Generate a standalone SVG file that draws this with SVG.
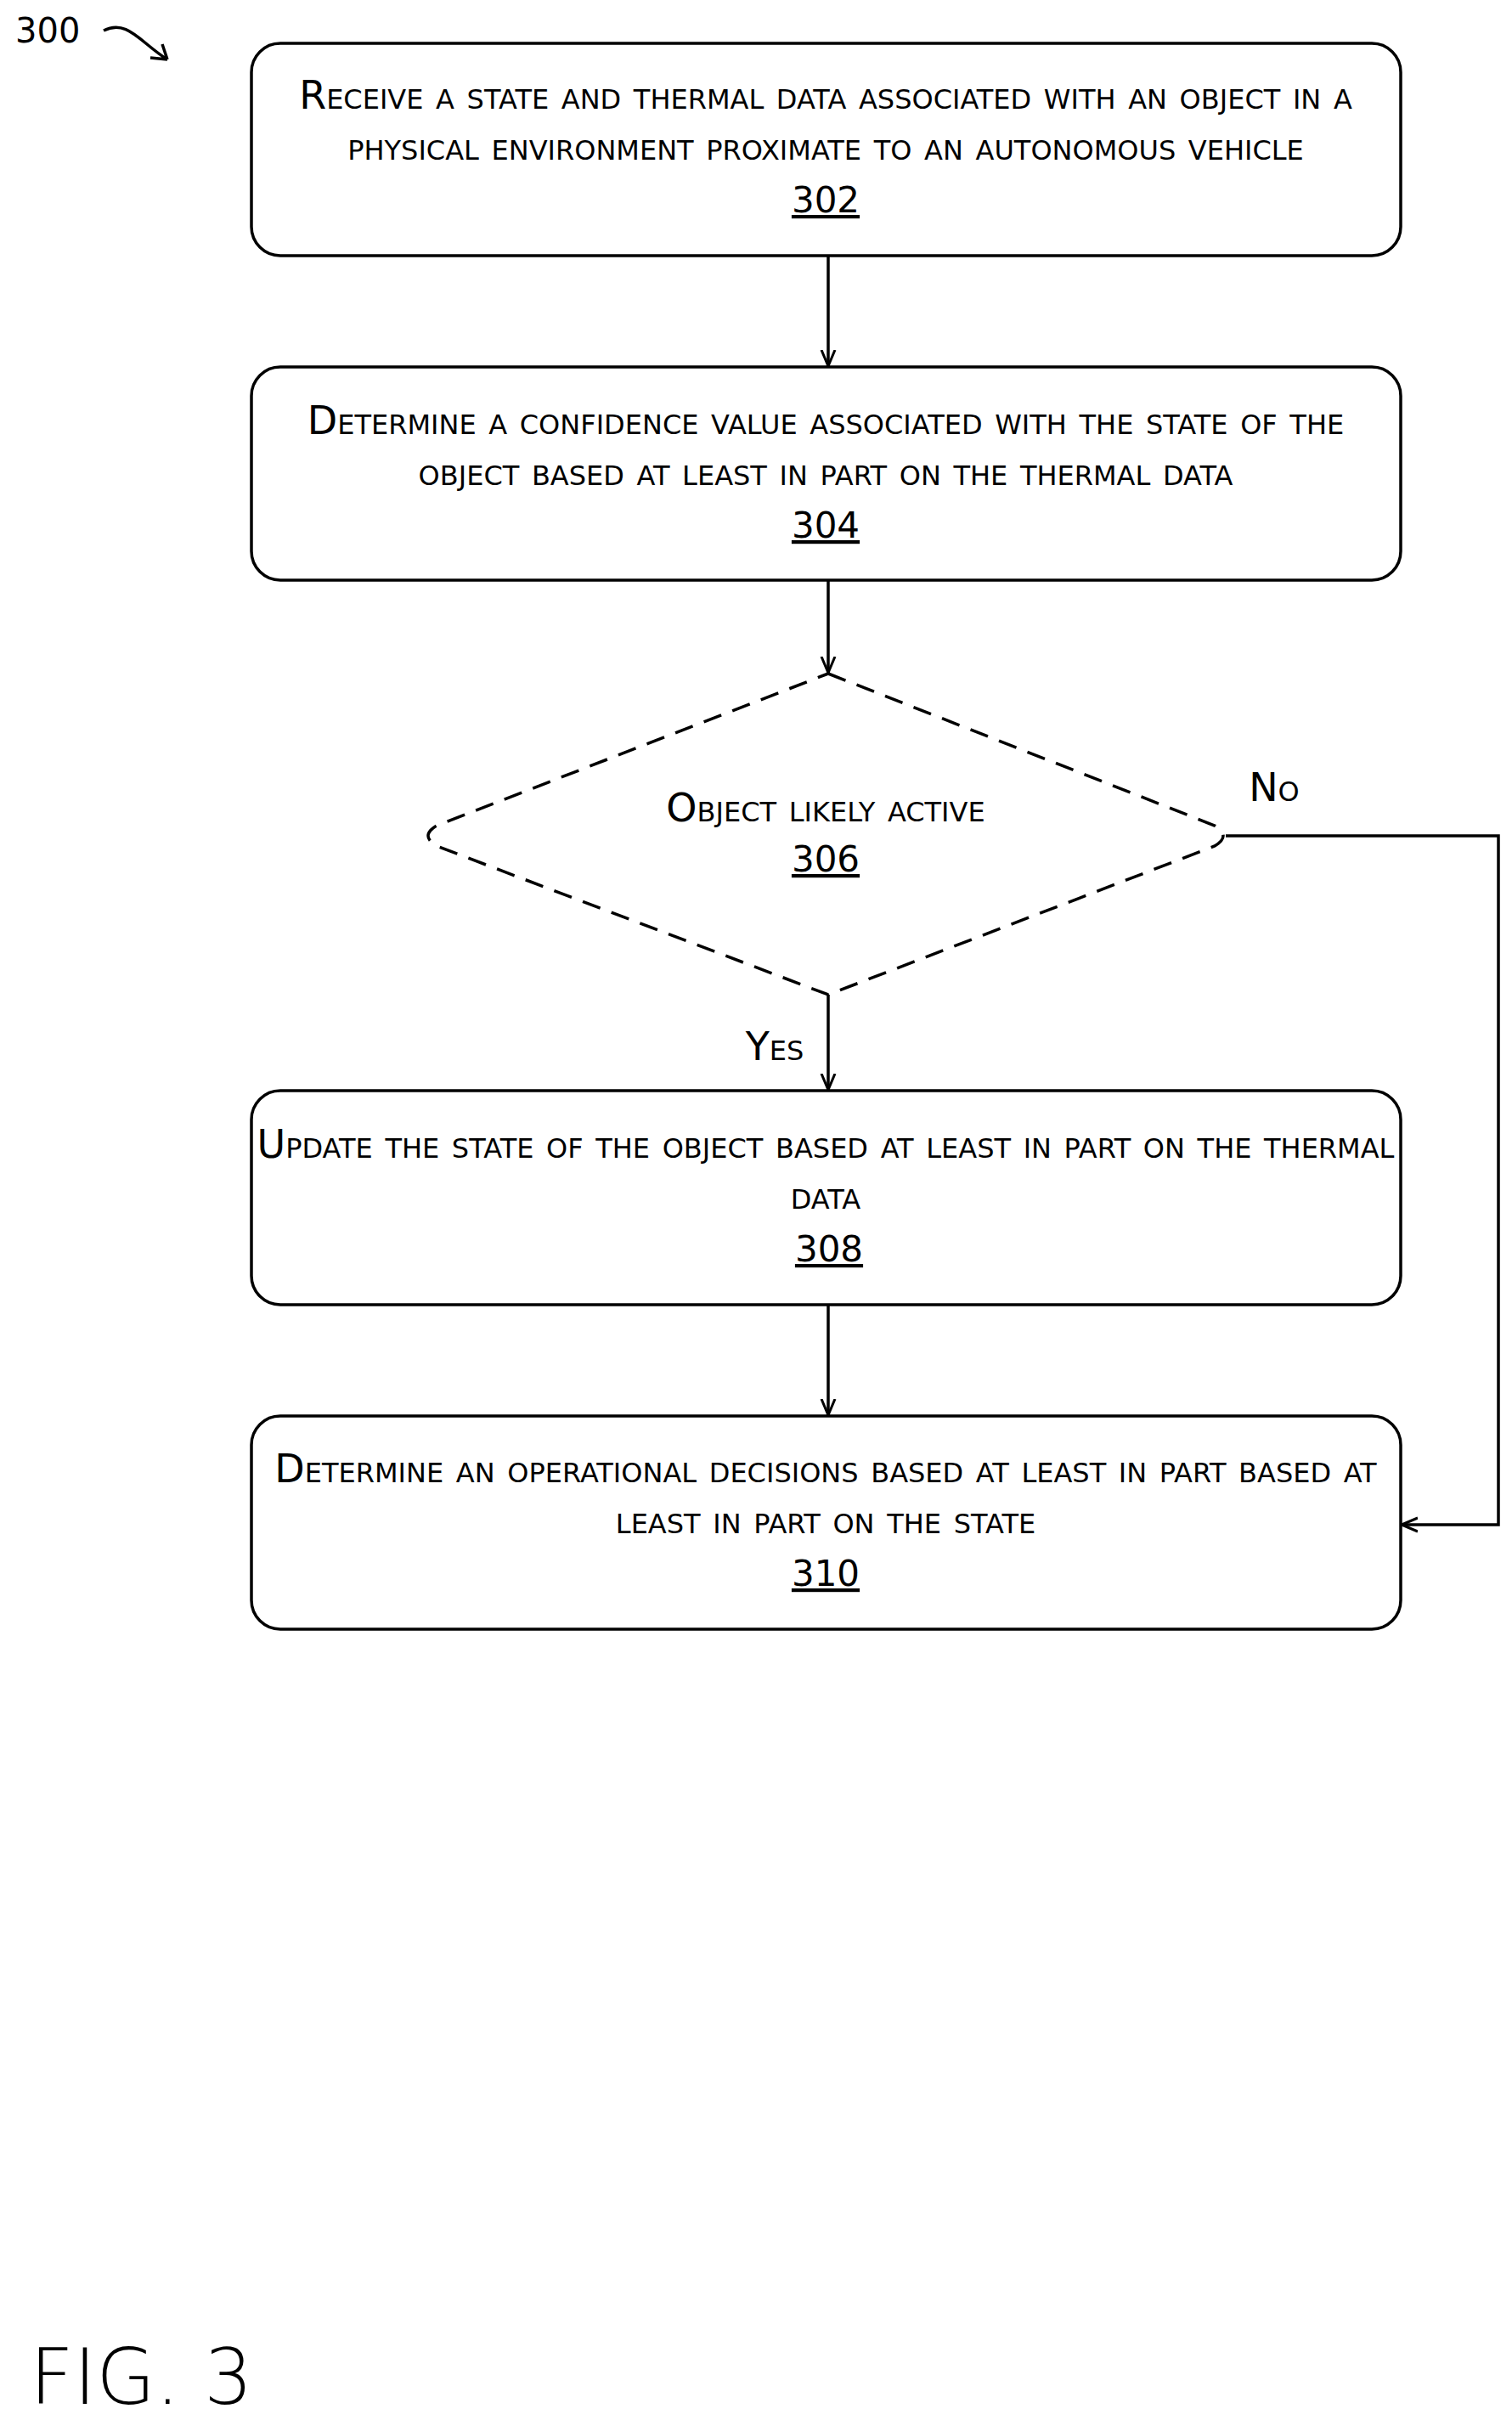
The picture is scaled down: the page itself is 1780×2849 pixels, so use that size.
<svg xmlns="http://www.w3.org/2000/svg" width="1780" height="2849" viewBox="0 0 1780 2849">
<style>
.b{fill:#fff;stroke:#000;stroke-width:3.5}
.t{font-family:"DejaVu Sans",sans-serif;font-size:46px;font-variant:small-caps;text-anchor:middle;fill:#000}
.n{font-family:"DejaVu Sans",sans-serif;font-size:42px;text-anchor:middle;text-decoration:underline;fill:#000}
.c{fill:none;stroke:#000;stroke-width:3.5}
</style>
<defs><marker id="a" viewBox="0 0 20 20" refX="19" refY="10" markerWidth="20" markerHeight="20" markerUnits="userSpaceOnUse" orient="auto"><path d="M0,2 L19,10 L0,18" fill="none" stroke="#000" stroke-width="3"/></marker></defs>
<g id="label300"><text x="18" y="50" font-family="DejaVu Sans,sans-serif" font-size="40">300</text><path class="c" d="M122,36 C150,22 165,50 197,70 M197,70 l-20,-2 M197,70 l-6,-18"/></g>
<g id="n302"><rect class="b" x="296" y="51" width="1353" height="250" rx="34"/><text class="t" x="972" y="128">Receive a state and thermal data associated with an object in a</text><text class="t" x="972" y="188">physical environment proximate to an autonomous vehicle</text><text class="n" x="972" y="250">302</text></g>
<g id="n304"><rect class="b" x="296" y="432" width="1353" height="251" rx="34"/><text class="t" x="972" y="511">Determine a confidence value associated with the state of the</text><text class="t" x="972" y="571">object based at least in part on the thermal data</text><text class="n" x="972" y="633">304</text></g>
<g id="n306"><path class="b" fill="#fff" stroke-dasharray="22,14" d="M975,793 L1430,972 Q1450,984 1430,996 L975,1171 L514,996 Q494,984 514,972 Z"/><text class="t" x="972" y="967">Object likely active</text><text class="n" x="972" y="1026">306</text></g>
<g id="n308"><rect class="b" x="296" y="1284" width="1353" height="252" rx="34"/><text class="t" x="972" y="1363">Update the state of the object based at least in part on the thermal</text><text class="t" x="972" y="1423">data</text><text class="n" x="976" y="1485">308</text></g>
<g id="n310"><rect class="b" x="296" y="1667" width="1353" height="251" rx="34"/><text class="t" x="972" y="1745">Determine an operational decisions based at least in part based at</text><text class="t" x="972" y="1805">least in part on the state</text><text class="n" x="972" y="1867">310</text></g>
<g id="connectors">
<line class="c" x1="975" y1="301" x2="975" y2="431" marker-end="url(#a)"/>
<line class="c" x1="975" y1="683" x2="975" y2="792" marker-end="url(#a)"/>
<line class="c" x1="975" y1="1171" x2="975" y2="1283" marker-end="url(#a)"/>
<line class="c" x1="975" y1="1536" x2="975" y2="1666" marker-end="url(#a)"/>
<path class="c" d="M1443,984 H1764 V1795 H1650" marker-end="url(#a)"/>
<text class="t" x="1500" y="943">No</text>
<text class="t" x="912" y="1248">Yes</text>
</g>
<text x="35" y="2830" font-family="DejaVu Sans,sans-serif" font-size="90" font-weight="200">FIG. 3</text>
</svg>
